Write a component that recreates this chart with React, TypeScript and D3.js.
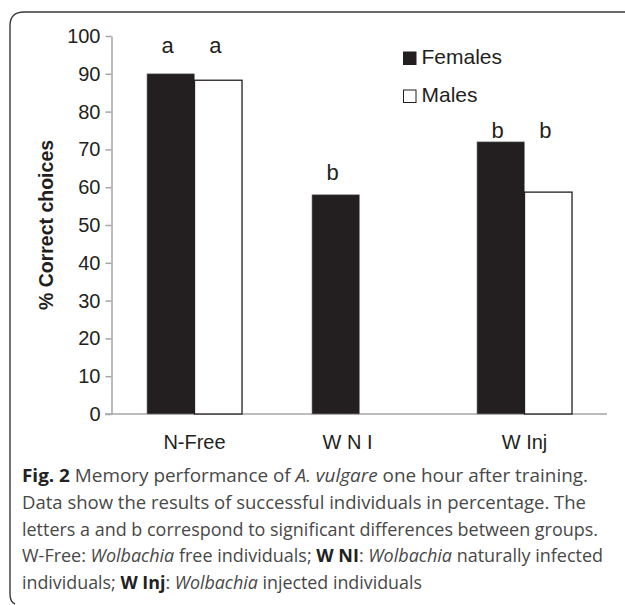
import { useEffect, useRef } from 'react';
import * as d3 from 'd3';

const groups = ['N-Free', 'W N I', 'W Inj'];
const seriesNames = ['Females', 'Males'];
const femaleValues = [90, 58, 72];
const maleValues: (number | null)[] = [88.3, null, 58.7];
// significance letters per group, per series, and the value level they sit at
const femaleLetters = ['a', 'b', 'b'];
const maleLetters = ['a', '', 'b'];
const letterLevels = [95.5, 61.8, 73];
const yTicks = d3.range(0, 101, 10);

// caption lines: [text, style] segments
const captionLines: [string, string][][] = [
  [['Fig. 2', 'b'], [' Memory performance of ', ''], ['A. vulgare', 'i'], [' one hour after training.', '']],
  [['Data show the results of successful individuals in percentage. The', '']],
  [['letters a and b correspond to significant differences between groups.', '']],
  [['W-Free: ', ''], ['Wolbachia', 'i'], [' free individuals; ', ''], ['W NI', 'b'], [': ', ''], ['Wolbachia', 'i'], [' naturally infected', '']],
  [['individuals; ', ''], ['W Inj', 'b'], [': ', ''], ['Wolbachia', 'i'], [' injected individuals', '']],
];
const captionWidths = [566, 564, 576, 581, 400];

const App = () => {
  const svgRef = useRef<SVGSVGElement>(null);

  useEffect(() => {
    const svg = d3.select(svgRef.current);
    svg.selectAll('*').remove();
    const font = '"Liberation Sans", Arial, sans-serif';
    const ink = '#231f20';
    const axisGray = '#a6a6a6';

    // frame
    svg.append('path')
      .attr('d', 'M 15 604 Q 10 602 10 594 L 10 26 Q 10 12 24 12 L 625 12')
      .attr('fill', 'none')
      .attr('stroke', '#3a3a3a')
      .attr('stroke-width', 1.4);

    const y = d3.scaleLinear().domain([0, 100]).range([414, 36]);
    const x = d3.scaleBand<string>()
      .domain(groups)
      .range([112, 607])
      .paddingInner(0.424)
      .paddingOuter(0.212);
    const xs = d3.scaleBand<string>().domain(seriesNames).range([0, x.bandwidth()]);

    // y axis
    const yAxis = svg.append('g')
      .attr('transform', 'translate(111.5,0)')
      .call(d3.axisLeft(y).tickValues(yTicks).tickSize(6).tickPadding(5).tickSizeOuter(0));
    yAxis.select('.domain').attr('stroke', axisGray).attr('stroke-width', 1.5);
    yAxis.selectAll('.tick line').attr('stroke', axisGray).attr('stroke-width', 1.5);
    yAxis.selectAll('.tick text')
      .attr('font-family', font)
      .attr('font-size', 20)
      .attr('fill', ink);

    // x axis line
    svg.append('line')
      .attr('x1', 105).attr('x2', 607)
      .attr('y1', y(0)).attr('y2', y(0))
      .attr('stroke', axisGray)
      .attr('stroke-width', 1.5);

    // bars
    groups.forEach((grp, i) => {
      const gx = x(grp) as number;
      svg.append('rect')
        .attr('x', gx + (xs('Females') as number))
        .attr('y', y(femaleValues[i]))
        .attr('width', xs.bandwidth())
        .attr('height', y(0) - y(femaleValues[i]))
        .attr('fill', ink)
        .attr('stroke', '#8a8a8a')
        .attr('stroke-width', 0.6);
      const mv = maleValues[i];
      if (mv != null) {
        svg.append('rect')
          .attr('x', gx + (xs('Males') as number))
          .attr('y', y(mv))
          .attr('width', xs.bandwidth())
          .attr('height', y(0) - y(mv))
          .attr('fill', '#fff')
          .attr('stroke', ink)
          .attr('stroke-width', 1.3);
      }
      [femaleLetters[i], maleLetters[i]].forEach((lt, j) => {
        if (!lt) return;
        svg.append('text')
          .attr('x', gx + (xs(seriesNames[j]) as number) + xs.bandwidth() / 2 - 3)
          .attr('y', y(letterLevels[i]))
          .attr('text-anchor', 'middle')
          .attr('font-family', font)
          .attr('font-size', 22)
          .attr('fill', ink)
          .text(lt);
      });
      svg.append('text')
        .attr('x', gx + x.bandwidth() / 2 - (grp === 'W N I' ? 12 : 0))
        .attr('y', 449)
        .attr('text-anchor', 'middle')
        .attr('font-family', font)
        .attr('font-size', 20)
        .attr('fill', ink)
        .text(grp);
    });

    // y title
    svg.append('text')
      .attr('transform', `translate(53,${(y(0) + y(100)) / 2}) rotate(-90)`)
      .attr('text-anchor', 'middle')
      .attr('font-family', font)
      .attr('font-weight', 'bold')
      .attr('font-size', 19.5)
      .attr('fill', ink)
      .text('% Correct choices');

    // legend
    seriesNames.forEach((name, i) => {
      const ly = 52 + i * 38;
      svg.append('rect')
        .attr('x', 403.5).attr('y', ly)
        .attr('width', 12.5).attr('height', 12.5)
        .attr('fill', i === 0 ? ink : '#fff')
        .attr('stroke', ink)
        .attr('stroke-width', 1);
      svg.append('text')
        .attr('x', 421.5)
        .attr('y', ly + 11.5)
        .attr('font-family', font)
        .attr('font-size', 21)
        .attr('fill', ink)
        .text(name);
    });

    // caption
    captionLines.forEach((segs, i) => {
      const t = svg.append('text')
        .attr('x', 22)
        .attr('y', 482 + i * 26.75)
        .attr('font-family', '"Open Sans", "Noto Sans", sans-serif')
        .attr('font-size', 18)
        .attr('fill', '#484848')
        .attr('textLength', captionWidths[i])
        .attr('lengthAdjust', 'spacingAndGlyphs')
        .attr('xml:space', 'preserve');
      segs.forEach(([s, st]) => {
        t.append('tspan')
          .attr('font-weight', st === 'b' ? 'bold' : null)
          .attr('font-style', st === 'i' ? 'italic' : null)
          .attr('fill', st === 'b' ? '#222' : null)
          .text(s);
      });
    });
  }, []);

  return (
    <div style={{ position: 'absolute', left: 0, top: 0 }}>
      <svg ref={svgRef} width="625" height="605" viewBox="0 0 625 605" style={{ display: 'block', background: '#fff' }}></svg>
    </div>
  );
};

export default App;
